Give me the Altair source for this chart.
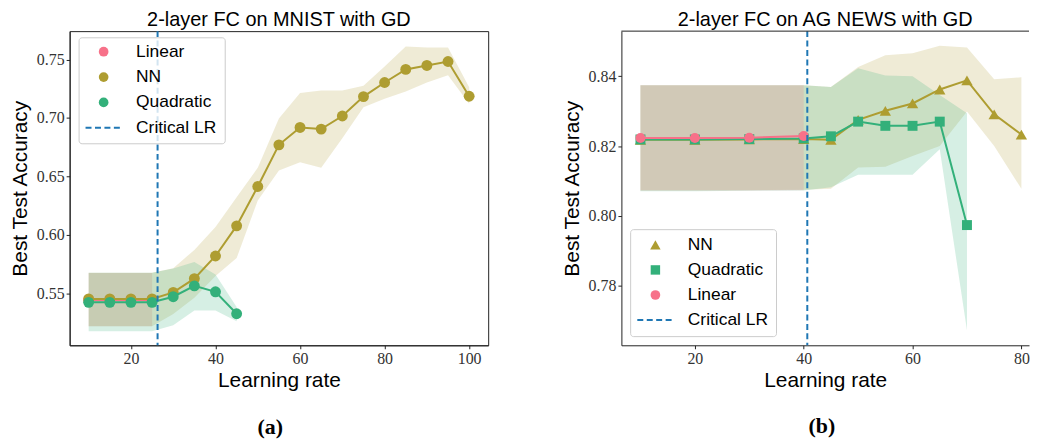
import altair as alt
import pandas as pd

# ---------------- Panel (a): 2-layer FC on MNIST with GD ----------------
mn_lr_lin = [10, 15, 20, 25]
mn_lin = [0.5441, 0.5441, 0.5441, 0.5441]
mn_lin_lo = [0.5215, 0.5215, 0.5215, 0.5215]
mn_lin_hi = [0.5672, 0.5672, 0.5672, 0.5672]

mn_lr_nn = [10, 15, 20, 25, 30, 35, 40, 45, 50, 55, 60, 65, 70, 75, 80, 85, 90, 95, 100]
mn_nn = [0.5450, 0.5450, 0.5450, 0.5450, 0.5506, 0.5624, 0.5818, 0.6076, 0.6413, 0.6770,
         0.6919, 0.6905, 0.7017, 0.7183, 0.7304, 0.7416, 0.7450, 0.7484, 0.7186]
mn_nn_lo = [0.5215, 0.5215, 0.5215, 0.5215, 0.5320, 0.5460, 0.5646, 0.5800, 0.6293, 0.6550,
            0.6620, 0.6574, 0.6826, 0.7093, 0.7164, 0.7226, 0.7304, 0.7366, 0.7121]
mn_nn_hi = [0.5675, 0.5675, 0.5675, 0.5675, 0.5713, 0.5870, 0.6067, 0.6320, 0.6573, 0.6995,
            0.7214, 0.7235, 0.7235, 0.7277, 0.7440, 0.7613, 0.7604, 0.7604, 0.7263]

mn_lr_q = [10, 15, 20, 25, 30, 35, 40, 45]
mn_q = [0.5421, 0.5421, 0.5421, 0.5421, 0.5469, 0.5562, 0.5511, 0.5323]
mn_q_lo = [0.5174, 0.5174, 0.5174, 0.5174, 0.5224, 0.5350, 0.5350, 0.5258]
mn_q_hi = [0.5675, 0.5675, 0.5675, 0.5675, 0.5710, 0.5767, 0.5660, 0.5380]

mn_crit = 26.3
mn_xticks = [20, 40, 60, 80, 100]
mn_yticks = [0.55, 0.60, 0.65, 0.70, 0.75]

# ---------------- Panel (b): 2-layer FC on AG NEWS with GD ----------------
ag_lr_nn = [10, 20, 30, 40, 45, 50, 55, 60, 65, 70, 75, 80]
ag_nn = [0.8218, 0.8218, 0.8219, 0.8220, 0.8218, 0.8275, 0.8301, 0.8322, 0.8362, 0.8388, 0.8291, 0.8233]
ag_nn_lo = [0.8073, 0.8073, 0.8074, 0.8075, 0.8078, 0.8139, 0.8141, 0.8172, 0.8200, 0.8299, 0.8200, 0.8078]
ag_nn_hi = [0.8374, 0.8374, 0.8374, 0.8374, 0.8369, 0.8426, 0.8460, 0.8466, 0.8487, 0.8482, 0.8391, 0.8397]

ag_lr_q = [10, 20, 30, 40, 45, 50, 55, 60, 65, 70]
ag_q = [0.8219, 0.8219, 0.8220, 0.8222, 0.8228, 0.8270, 0.8258, 0.8258, 0.8270, 0.7974]
ag_q_lo = [0.8071, 0.8071, 0.8072, 0.8073, 0.8082, 0.8118, 0.8118, 0.8118, 0.8191, 0.7673]
ag_q_hi = [0.8374, 0.8374, 0.8374, 0.8374, 0.8369, 0.8423, 0.8402, 0.8400, 0.8346, 0.8294]

ag_lr_lin = [10, 20, 30, 40]
ag_lin = [0.8223, 0.8223, 0.8224, 0.8229]
ag_lin_lo = [0.8073, 0.8073, 0.8073, 0.8074]
ag_lin_hi = [0.8374, 0.8374, 0.8374, 0.8374]

ag_crit = 40.66
ag_xticks = [20, 40, 60, 80]
ag_yticks = [0.78, 0.80, 0.82, 0.84]

COLORS = {"Linear": "#f77189", "NN": "#ae9d31", "Quadratic": "#33b07a"}
CRIT_COLOR = "#1f77b4"
FRAME = "#222222"


def panel(series, xdom, ydom, xticks, yticks, crit, legend, width, height, title,
          right_open=False):
    xs = alt.Scale(domain=xdom, nice=False, zero=False)
    ys = alt.Scale(domain=ydom, nice=False, zero=False)
    xaxis = alt.Axis(values=xticks, format="d", title="Learning rate")
    yaxis = alt.Axis(values=yticks, format=".2f", title="Best Test Accuracy")

    def X(f):
        return alt.X(f, type="quantitative", scale=xs, axis=xaxis)

    def Y(f):
        return alt.Y(f, type="quantitative", scale=ys, axis=yaxis)

    layers = []
    # bands first
    for name, lr, m, lo, hi, shape, size in series:
        df = pd.DataFrame({"lr": lr, "m": m, "lo": lo, "hi": hi})
        layers.append(alt.Chart(df).mark_area(color=COLORS[name], opacity=0.2)
                      .encode(x=X("lr"), y=Y("lo"), y2="hi"))
    # lines + markers
    for name, lr, m, lo, hi, shape, size in series:
        df = pd.DataFrame({"lr": lr, "m": m})
        layers.append(alt.Chart(df).mark_line(color=COLORS[name], strokeWidth=2)
                      .encode(x=X("lr"), y=Y("m")))
        layers.append(alt.Chart(df).mark_point(color=COLORS[name], filled=True, opacity=1,
                                               shape=shape, size=size, strokeWidth=0)
                      .encode(x=X("lr"), y=Y("m")))
    # critical LR line
    layers.append(alt.Chart(pd.DataFrame({"c": [crit]}))
                  .mark_rule(color=CRIT_COLOR, strokeDash=[6, 3.5], strokeWidth=2)
                  .encode(x=X("c")))

    # legend box
    lx0, ly0, lx1, ly1, rows, step = legend["box"]
    layers.append(alt.Chart(pd.DataFrame({"a": [0]}))
                  .mark_rect(fill="white", fillOpacity=0.8, stroke="#cccccc",
                             strokeWidth=1, cornerRadius=3)
                  .encode(x=alt.value(lx0), x2=alt.value(lx1),
                          y=alt.value(ly0), y2=alt.value(ly1)))
    for i, (lab, shape, size) in enumerate(legend["items"]):
        yy = rows + i * step
        one = pd.DataFrame({"label": [lab]})
        if shape == "dash":
            layers.append(alt.Chart(one)
                          .mark_rule(color=CRIT_COLOR, strokeDash=[6, 3.5], strokeWidth=2)
                          .encode(x=alt.value(16), x2=alt.value(52.5), y=alt.value(yy)))
        else:
            layers.append(alt.Chart(one)
                          .mark_point(color=COLORS[lab], filled=True, opacity=1,
                                      shape=shape, size=size, strokeWidth=0)
                          .encode(x=alt.value(34.2), y=alt.value(yy)))
        layers.append(alt.Chart(one)
                      .mark_text(align="left", baseline="middle", font="Liberation Sans",
                                 fontSize=17.5, color="black")
                      .encode(x=alt.value(66.8), y=alt.value(yy), text="label:N"))

    if right_open:
        layers.append(alt.Chart(pd.DataFrame({"a": [0]}))
                      .mark_rule(color=FRAME, strokeWidth=1)
                      .encode(x=alt.value(0), x2=alt.value(width), y=alt.value(0)))

    props = dict(width=width, height=height,
                 title=alt.TitleParams(title, anchor="middle", baseline="alphabetic",
                                       offset=-16))
    ch = alt.layer(*layers).properties(**props)
    if right_open:
        ch = ch.properties(view=alt.ViewBackground(stroke=None, strokeWidth=0))
    return ch


left = panel(
    [("Linear", mn_lr_lin, mn_lin, mn_lin_lo, mn_lin_hi, "circle", 120),
     ("NN", mn_lr_nn, mn_nn, mn_nn_lo, mn_nn_hi, "circle", 120),
     ("Quadratic", mn_lr_q, mn_q, mn_q_lo, mn_q_hi, "circle", 120)],
    [5.5, 104.5], [0.5053, 0.7744], mn_xticks, mn_yticks, mn_crit,
    {"box": (9.5, 6.7, 156.5, 113.3, 20.7, 25.5),
     "items": [("Linear", "circle", 95), ("NN", "circle", 95),
               ("Quadratic", "circle", 95), ("Critical LR", "dash", 0)]},
    421, 316, "2-layer FC on MNIST with GD")

right = panel(
    [("NN", ag_lr_nn, ag_nn, ag_nn_lo, ag_nn_hi, "triangle-up", 130),
     ("Quadratic", ag_lr_q, ag_q, ag_q_lo, ag_q_hi, "square", 100),
     ("Linear", ag_lr_lin, ag_lin, ag_lin_lo, ag_lin_hi, "circle", 100)],
    [6.5, 81.4], [0.763, 0.8529], ag_xticks, ag_yticks, ag_crit,
    {"box": (9.3, 199.7, 156, 307.3, 215, 25.2),
     "items": [("NN", "triangle-up", 110), ("Quadratic", "square", 90),
               ("Linear", "circle", 95), ("Critical LR", "dash", 0)]},
    410, 316, "2-layer FC on AG NEWS with GD", right_open=True)


def cap(text, dx):
    return alt.TitleParams(text, orient="bottom", anchor="middle", font="Liberation Serif",
                           fontWeight="bold", fontSize=22, color="black", dx=dx, offset=26)


chart = alt.hconcat(
    alt.vconcat(left, title=cap("(a)", 21.5)),
    alt.vconcat(right, title=cap("(b)", 26.6)),
    spacing=72,
).properties(
    padding={"left": 1, "top": 0, "right": 0, "bottom": 0},
).configure_view(
    stroke=FRAME, strokeWidth=1,
).configure_axis(
    grid=False,
    labelFont="Liberation Serif", labelFontSize=16, labelColor="#333333",
    titleFont="Liberation Sans", titleFontSize=21, titleFontWeight="normal",
    titleColor="black",
    tickColor=FRAME, tickSize=3.5, domainColor=FRAME, domainWidth=1,
).configure_axisX(
    labelPadding=2, titlePadding=3,
).configure_axisY(
    labelPadding=2, titlePadding=6,
).configure_title(
    font="Liberation Sans", fontSize=20, fontWeight="normal", color="black",
).configure_concat(spacing=0)

chart.save("out.html", embed_options={"renderer": "svg", "actions": False})
